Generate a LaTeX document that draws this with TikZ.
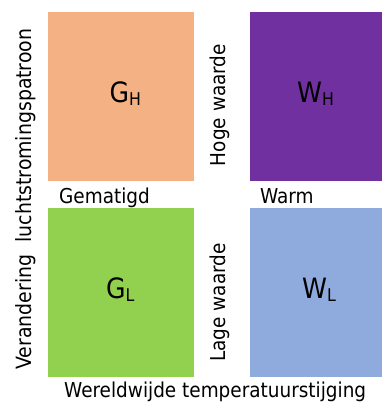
\documentclass[tikz,border=0pt]{standalone}
\usepackage{fontspec}
\setmainfont{DejaVu Sans Condensed}
\definecolor{boxorange}{HTML}{F4B183}
\definecolor{boxpurple}{HTML}{7030A0}
\definecolor{boxgreen}{HTML}{92D050}
\definecolor{boxblue}{HTML}{8FAADC}
\newcommand{\mysub}[1]{\raisebox{-2.8pt}{\fontsize{17.5}{20}\selectfont #1}}
\begin{document}
\begin{tikzpicture}[x=1pt,y=-1pt,
  cell/.style={inner sep=0, outer sep=0, draw=none},
  lab/.style={inner sep=0, font=\fontsize{20.5}{24}\selectfont},
  big/.style={inner sep=0, anchor=base west, font=\fontsize{28}{32}\selectfont}]
\useasboundingbox (0,0) rectangle (382,403);
\node[cell, fill=boxorange, minimum width=146pt, minimum height=169pt] (gh box) at (121,96.5) {};
\node[cell, fill=boxpurple, minimum width=132pt, minimum height=169pt] (wh box) at (316,96.5) {};
\node[cell, fill=boxgreen, minimum width=146pt, minimum height=169pt] (gl box) at (121,292.5) {};
\node[cell, fill=boxblue, minimum width=132pt, minimum height=169pt] (wl box) at (316,292.5) {};
\node[big] (gh) at (109.5,102.3) {G\mysub{H}};
\node[big] (wh) at (297,102.3) {W\mysub{H}};
\node[big] (gl) at (106,298.3) {G\mysub{L}};
\node[big] (wl) at (302,298.3) {W\mysub{L}};
\node[lab, anchor=base west] (gematigd) at (59,203.5) {Gematigd};
\node[lab, anchor=base west] (warm) at (260,203.5) {Warm};
\node[lab, anchor=base west] (wereld) at (64,397.5) {Wereldwijde temperatuurstijging};
\node[lab, rotate=90, anchor=base] (hoge) at (225.5,105) {Hoge waarde};
\node[lab, rotate=90, anchor=base] (lage) at (225.5,302.5) {Lage waarde};
\node[lab, rotate=90, anchor=base, font=\fontsize{21}{24}\selectfont] (vert) at (31,199) {Verandering\ \ luchtstromingspatroon};
\end{tikzpicture}
\end{document}
